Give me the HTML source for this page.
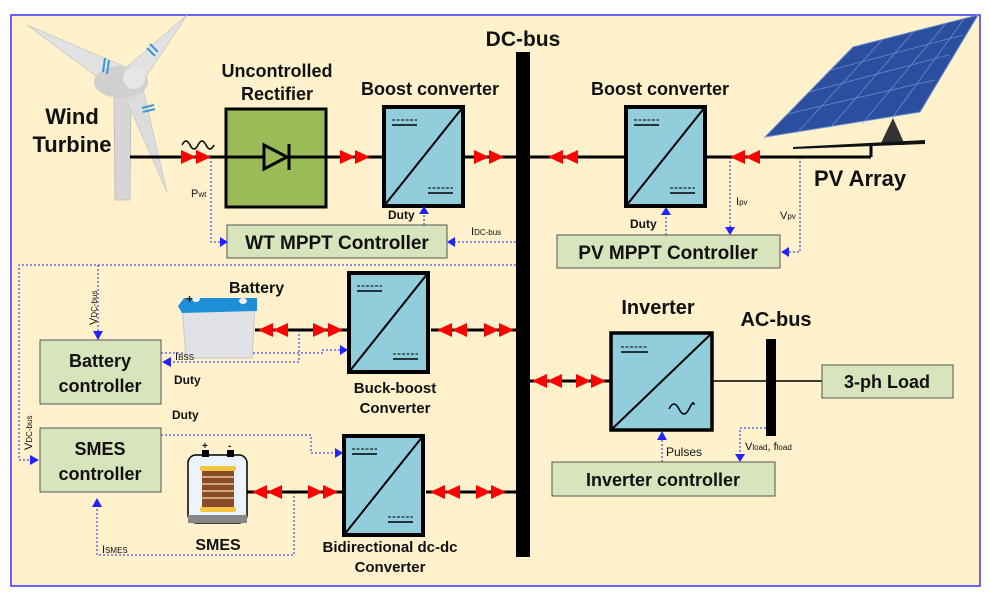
<!DOCTYPE html>
<html><head><meta charset="utf-8"><style>
html,body{margin:0;padding:0;background:#fff;}
svg{display:block;}
text{font-family:"Liberation Sans",sans-serif;fill:#111;}
.b{font-weight:bold;}
</style></head><body>
<svg width="989" height="597" viewBox="0 0 989 597" xmlns="http://www.w3.org/2000/svg">
<rect x="11" y="15" width="969" height="571" fill="#fff1cc" stroke="#3333ff" stroke-width="1.5"/>

<!-- wind turbine -->
<g>
<polygon points="114,92 131,92 130,200 115,200" fill="#d6d6d6" stroke="#bbb" stroke-width="0.8"/>
<polygon points="27,25 128,68 118,92" fill="#e2e2e2" stroke="#c8c8c8" stroke-width="0.8"/>
<polygon points="187,15 145,78 126,68" fill="#e2e2e2" stroke="#c8c8c8" stroke-width="0.8"/>
<polygon points="167,192 141,80 120,86" fill="#dcdcdc" stroke="#c8c8c8" stroke-width="0.8"/>
<ellipse cx="121" cy="82" rx="27" ry="16" fill="#d0d0d0"/>
<circle cx="134" cy="78" r="11" fill="#e6e6e6"/>
<line x1="105" y1="58" x2="103" y2="72" stroke="#3a9ad9" stroke-width="2"/>
<line x1="109" y1="60" x2="107" y2="74" stroke="#3a9ad9" stroke-width="2"/>
<line x1="150" y1="44" x2="158" y2="52" stroke="#3a9ad9" stroke-width="2"/>
<line x1="147" y1="48" x2="155" y2="56" stroke="#3a9ad9" stroke-width="2"/>
<line x1="142" y1="108" x2="154" y2="105" stroke="#3a9ad9" stroke-width="2"/>
<line x1="143" y1="112" x2="155" y2="109" stroke="#3a9ad9" stroke-width="2"/>
</g>
<text class="b" x="72" y="124" font-size="22" text-anchor="middle">Wind</text>
<text class="b" x="72" y="152" font-size="22" text-anchor="middle">Turbine</text>

<!-- DC bus -->
<rect x="516" y="52" width="14" height="505" fill="#000"/>
<text class="b" x="523" y="46" font-size="21" text-anchor="middle">DC-bus</text>

<!-- WT chain -->
<line x1="130" y1="157" x2="516" y2="157" stroke="#000" stroke-width="3"/>
<path d="M182,145 q4,-8 8,0 t8,0 t8,0 t8,0" fill="none" stroke="#000" stroke-width="1.5"/>
<g fill="#f00">
<polygon points="181,150 196,157 181,164"/><polygon points="196,150 211,157 196,164"/>
<polygon points="340,150 355,157 340,164"/><polygon points="355,150 370,157 355,164"/>
<polygon points="474,150 489,157 474,164"/><polygon points="489,150 504,157 489,164"/>
</g>
<rect x="226" y="109" width="100" height="98" fill="#9bbb59" stroke="#000" stroke-width="3"/>
<line x1="226" y1="157" x2="326" y2="157" stroke="#000" stroke-width="3"/>
<polygon points="264,145 287,157 264,169" fill="#9bbb59" stroke="#000" stroke-width="3"/>
<line x1="289" y1="144" x2="289" y2="170" stroke="#000" stroke-width="3"/>
<text class="b" x="277" y="77" font-size="18" text-anchor="middle">Uncontrolled</text>
<text class="b" x="277" y="100" font-size="18" text-anchor="middle">Rectifier</text>

<g id="conv">
<rect x="384" y="107" width="79" height="99" fill="#92cddc" stroke="#000" stroke-width="4"/>
<line x1="384" y1="206" x2="463" y2="107" stroke="#000" stroke-width="2"/>
<line x1="392" y1="120" x2="417" y2="120" stroke="#000" stroke-width="1" stroke-dasharray="3,1.5"/>
<line x1="392" y1="125" x2="417" y2="125" stroke="#000" stroke-width="1.5"/>
<line x1="428" y1="188" x2="453" y2="188" stroke="#000" stroke-width="1" stroke-dasharray="3,1.5"/>
<line x1="428" y1="193" x2="453" y2="193" stroke="#000" stroke-width="1.5"/>
</g>
<text class="b" x="430" y="95" font-size="18" text-anchor="middle">Boost converter</text>
<text class="b" x="388" y="219" font-size="12">Duty</text>

<rect x="227" y="225" width="220" height="33" fill="#d8e4bc" stroke="#555" stroke-width="1"/>
<text class="b" x="337" y="249" font-size="19" text-anchor="middle">WT MPPT Controller</text>

<g fill="none" stroke="#22f" stroke-width="1" stroke-dasharray="2,2">
<path d="M211,157 V242 H222"/>
<path d="M424,225 V212"/>
<path d="M516,242 H452"/>
<path d="M516,265 H19 V460 H32"/>
<path d="M98,265 V332"/>
<path d="M299,330 V362 H168"/>
<path d="M161,353 H322 V350 H342"/>
<path d="M161,435 H311 V453 H336"/>
<path d="M294,492 V555 H97 V503"/>
<path d="M730,157 V228"/>
<path d="M800,157 V252 H786"/>
<path d="M666,235 V213"/>
<path d="M662,462 V437"/>
<path d="M766,428 H740 V455"/>
</g>
<g fill="#22f">
<polygon points="220,237 228,242 220,247"/>
<polygon points="419,214 424,206 429,214"/>
<polygon points="455,237 447,242 455,247"/>
<polygon points="30,455 39,460 30,465"/>
<polygon points="93,331 98,340 103,331"/>
<polygon points="171,357 162,362 171,367"/>
<polygon points="340,345 348,350 340,355"/>
<polygon points="335,448 343,453 335,458"/>
<polygon points="92,507 97,498 102,507"/>
<polygon points="725,227 730,235 735,227"/>
<polygon points="789,247 781,252 789,257"/>
<polygon points="661,215 666,207 671,215"/>
<polygon points="657,440 662,431 667,440"/>
<polygon points="735,454 740,462 745,454"/>
</g>
<text x="191" y="197" font-size="11">P<tspan font-size="8">wt</tspan></text>
<text x="471" y="235" font-size="11">I<tspan font-size="8">DC-bus</tspan></text>

<!-- Battery -->
<rect x="40" y="340" width="121" height="64" fill="#d8e4bc" stroke="#555"/>
<text class="b" x="100" y="367" font-size="18" text-anchor="middle">Battery</text>
<text class="b" x="100" y="392" font-size="18" text-anchor="middle">controller</text>
<rect x="40" y="428" width="121" height="64" fill="#d8e4bc" stroke="#555"/>
<text class="b" x="100" y="455" font-size="18" text-anchor="middle">SMES</text>
<text class="b" x="100" y="480" font-size="18" text-anchor="middle">controller</text>
<text x="0" y="0" font-size="11" transform="translate(97,325) rotate(-90)">V<tspan font-size="8">DC-bus</tspan></text>
<text x="0" y="0" font-size="11" transform="translate(32,450) rotate(-90)">V<tspan font-size="8">DC-bus</tspan></text>

<polygon points="182,305 255,305 252,358 186,358" fill="#e0e2e6" stroke="#c6c8cc"/>
<polygon points="178,306 184,298 257,298 257,311 182,313" fill="#1e8fd6"/>
<ellipse cx="196" cy="299" rx="4" ry="3" fill="#eee"/><ellipse cx="243" cy="301" rx="4" ry="3" fill="#eee"/>
<text class="b" x="186" y="303" font-size="12">+</text>
<text class="b" x="229" y="293" font-size="16">Battery</text>

<line x1="255" y1="330" x2="350" y2="330" stroke="#000" stroke-width="3"/>
<line x1="431" y1="330" x2="516" y2="330" stroke="#000" stroke-width="3"/>
<g fill="#f00">
<polygon points="273,323 258,330 273,337"/><polygon points="288,323 273,330 288,337"/>
<polygon points="313,323 328,330 313,337"/><polygon points="328,323 343,330 328,337"/>
<polygon points="452,323 437,330 452,337"/><polygon points="467,323 452,330 467,337"/>
<polygon points="484,323 499,330 484,337"/><polygon points="499,323 514,330 499,337"/>
</g>
<use href="#conv" transform="translate(-35,166)"/>
<text class="b" x="395" y="393" font-size="15" text-anchor="middle">Buck-boost</text>
<text class="b" x="395" y="413" font-size="15" text-anchor="middle">Converter</text>
<text x="175" y="360" font-size="11">I<tspan font-size="8">BSS</tspan></text>
<text class="b" x="174" y="384" font-size="12">Duty</text>
<text class="b" x="172" y="419" font-size="12">Duty</text>

<!-- SMES -->
<rect x="188" y="455" width="59" height="68" rx="8" fill="#eaf4fa" stroke="#000" stroke-width="1.5"/>
<rect x="188" y="515" width="59" height="8" fill="#888"/>
<rect x="202" y="450" width="7" height="7" fill="#000"/><rect x="227" y="450" width="7" height="7" fill="#000"/>
<text class="b" x="202" y="449" font-size="10">+</text><text class="b" x="228" y="449" font-size="10">-</text>
<rect x="200" y="466" width="36" height="5" rx="2" fill="#f5c542"/>
<rect x="202" y="471" width="32" height="36" fill="#8b4a2b"/>
<g stroke="#e8c98a" stroke-width="1.5"><line x1="202" y1="477" x2="234" y2="477"/><line x1="202" y1="484" x2="234" y2="484"/><line x1="202" y1="491" x2="234" y2="491"/><line x1="202" y1="498" x2="234" y2="498"/></g>
<rect x="200" y="507" width="36" height="5" rx="2" fill="#f5c542"/>
<text class="b" x="218" y="550" font-size="16" text-anchor="middle">SMES</text>
<line x1="247" y1="492" x2="345" y2="492" stroke="#000" stroke-width="3"/>
<line x1="426" y1="492" x2="516" y2="492" stroke="#000" stroke-width="3"/>
<g fill="#f00">
<polygon points="267,485 252,492 267,499"/><polygon points="282,485 267,492 282,499"/>
<polygon points="308,485 323,492 308,499"/><polygon points="323,485 338,492 323,499"/>
<polygon points="445,485 430,492 445,499"/><polygon points="460,485 445,492 460,499"/>
<polygon points="476,485 491,492 476,499"/><polygon points="491,485 506,492 491,499"/>
</g>
<use href="#conv" transform="translate(-40,329)"/>
<text class="b" x="390" y="552" font-size="15" text-anchor="middle">Bidirectional dc-dc</text>
<text class="b" x="390" y="572" font-size="15" text-anchor="middle">Converter</text>
<text x="102" y="553" font-size="11">I<tspan font-size="8">SMES</tspan></text>

<!-- PV side -->
<line x1="530" y1="157" x2="871" y2="157" stroke="#000" stroke-width="3"/>
<line x1="871" y1="157" x2="871" y2="145" stroke="#000" stroke-width="3"/>
<g fill="#f00">
<polygon points="563,150 548,157 563,164"/><polygon points="578,150 563,157 578,164"/>
<polygon points="745,150 730,157 745,164"/><polygon points="760,150 745,157 760,164"/>
</g>
<use href="#conv" transform="translate(242,0)"/>
<text class="b" x="660" y="95" font-size="18" text-anchor="middle">Boost converter</text>
<text class="b" x="630" y="228" font-size="12">Duty</text>
<rect x="557" y="235" width="223" height="33" fill="#d8e4bc" stroke="#555"/>
<text class="b" x="668" y="259" font-size="19" text-anchor="middle">PV MPPT Controller</text>
<text x="736" y="205" font-size="11">I<tspan font-size="8">pv</tspan></text>
<text x="780" y="219" font-size="11">V<tspan font-size="8">pv</tspan></text>

<polygon points="893,118 905,145 880,145" fill="#333"/>
<polygon points="793,147 925,140 925,144 793,149" fill="#111"/>
<polygon points="765,137 853,47 978,15 920,112" fill="#2b4f9e" stroke="#6b8fd0" stroke-width="1"/>
<g stroke="#7fa3e0" stroke-width="0.8" opacity="0.7">
<line x1="787" y1="114" x2="935" y2="80"/><line x1="809" y1="92" x2="949" y2="55"/><line x1="831" y1="70" x2="963" y2="35"/>
<line x1="797" y1="133" x2="883" y2="39"/><line x1="830" y1="128" x2="914" y2="31"/><line x1="862" y1="124" x2="946" y2="23"/><line x1="892" y1="118" x2="964" y2="19"/>
</g>
<text class="b" x="860" y="186" font-size="22" text-anchor="middle">PV Array</text>

<!-- Inverter -->
<line x1="530" y1="381" x2="610" y2="381" stroke="#000" stroke-width="3"/>
<g fill="#f00">
<polygon points="547,374 532,381 547,388"/><polygon points="562,374 547,381 562,388"/>
<polygon points="576,374 591,381 576,388"/><polygon points="591,374 606,381 591,388"/>
</g>
<rect x="611" y="333" width="101" height="97" fill="#92cddc" stroke="#000" stroke-width="3.5"/>
<line x1="611" y1="430" x2="712" y2="333" stroke="#000" stroke-width="2"/>
<line x1="621" y1="347" x2="648" y2="347" stroke="#000" stroke-width="1" stroke-dasharray="3,1.5"/>
<line x1="621" y1="352" x2="648" y2="352" stroke="#000" stroke-width="1.5"/>
<path d="M669,409 q5,-10 10,0 t10,0 t5,-4" fill="none" stroke="#000" stroke-width="1.5"/>
<text class="b" x="658" y="314" font-size="20" text-anchor="middle">Inverter</text>
<line x1="712" y1="381" x2="822" y2="381" stroke="#000" stroke-width="1.5"/>
<rect x="766" y="339" width="10" height="97" fill="#000"/>
<text class="b" x="776" y="326" font-size="20" text-anchor="middle">AC-bus</text>
<rect x="822" y="365" width="131" height="33" fill="#d8e4bc" stroke="#555"/>
<text class="b" x="887" y="388" font-size="18" text-anchor="middle">3-ph Load</text>
<rect x="552" y="462" width="223" height="34" fill="#d8e4bc" stroke="#555"/>
<text class="b" x="663" y="486" font-size="18" text-anchor="middle">Inverter controller</text>
<text x="666" y="456" font-size="12">Pulses</text>
<text x="745" y="450" font-size="11">V<tspan font-size="8">load</tspan>, f<tspan font-size="8">load</tspan></text>
</svg>
</body></html>
